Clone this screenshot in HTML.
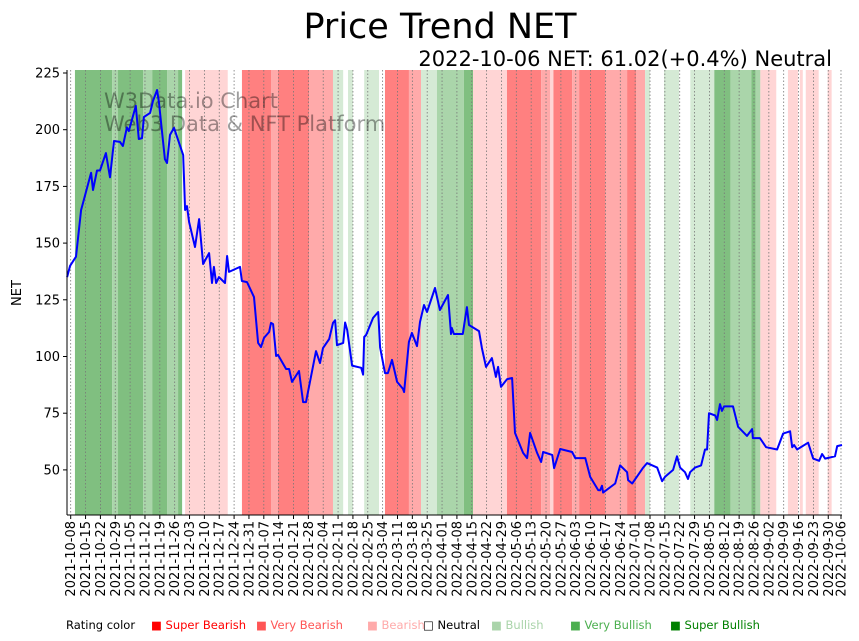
<!DOCTYPE html>
<html><head><meta charset="utf-8"><style>
html,body{margin:0;padding:0;background:#fff;}
svg{display:block;font-family:"Liberation Sans","DejaVu Sans",sans-serif;}
</style></head><body>
<svg id="chart" width="859" height="641" viewBox="0 0 859 641">
<text x="440" y="38" font-size="35" text-anchor="middle" fill="#000" font-family="DejaVu Sans, sans-serif">Price Trend NET</text>
<text x="832" y="66" font-size="21" text-anchor="end" fill="#000" font-family="DejaVu Sans, sans-serif">2022-10-06 NET: 61.02(+0.4%) Neutral</text>
<g id="bands"></g>
<g id="grid"></g>
<text x="104" y="108" font-size="21" fill="#000" fill-opacity="0.38" font-family="DejaVu Sans, sans-serif">W3Data.io Chart</text>
<text x="104" y="131" font-size="21" fill="#000" fill-opacity="0.38" font-family="DejaVu Sans, sans-serif">Web3 Data &amp; NFT Platform</text>
<path id="priceLine" fill="none" stroke="#0000ff" stroke-width="2" stroke-linejoin="round"/>
<line x1="67" y1="70" x2="67" y2="515" stroke="#000" stroke-width="1"/>
<line x1="67" y1="515" x2="842" y2="515" stroke="#000" stroke-width="1"/>
<g id="yticks"></g>
<g id="xticks"></g>
<text transform="translate(21,293) rotate(-90)" font-size="13" text-anchor="middle" font-family="DejaVu Sans, sans-serif">NET</text>
<g font-size="11.5" font-family="DejaVu Sans, sans-serif">
<text x="66" y="629" fill="#000">Rating color</text>
<text x="151" y="629" fill="#ff0000">■ Super Bearish</text>
<text x="256" y="629" fill="#ff5555">■ Very Bearish</text>
<text x="367" y="629" fill="#ffaaaa">■ Bearish</text>
<text x="423" y="629" fill="#000">□ Neutral</text>
<text x="491" y="629" fill="#aad4aa">■ Bullish</text>
<text x="570" y="629" fill="#4caf50">■ Very Bullish</text>
<text x="670" y="629" fill="#008000">■ Super Bullish</text>
</g>
</svg>
<script>
const bandStart=[2,19.5,22.3,34.1,38.4,45.4,50.6,53.9,80.7,94.4,97.7,112.3,123.6,130.7,138.3,148.1,159.4,165.1,172.6,185.3,189.6,205.6,221.7,226,227.5,236.3,239.6,252,262.2,266.4,270.7,279.6,292,303.3,310.9,320.8,322.7,325,338,343.6,346.4,356.7];
const bandEnd=[19.5,22.3,34.1,38.4,45.4,50.6,52.5,74,94.4,97.7,112.3,123.6,128.4,133,145.3,159.4,165.1,172.6,185.3,189.6,205.6,221.7,226,227.5,236.3,239.6,252,262.2,266.4,270.7,273,286.7,303.3,310.9,320.8,322.7,325,332.5,342.7,345,352.5,358.6];
const bandRating=[3,2,3,2,3,2,3,-1,-3,-2,-3,-2,1,1,1,-3,-2,1,2,3,-1,-3,-2,-1,-3,-2,-3,-2,-3,-2,1,1,1,3,2,3,2,-1,-1,-1,-1,-1];
const priceDays=[-1.7,-0.3,2.5,4.9,5.8,9.6,10.5,12.4,13.8,16.6,18.5,20.4,23.2,24.6,26.5,27.4,30.7,32.1,33.6,34.5,37.4,38.8,40.7,41.6,44.4,45.4,46.8,48.7,53,53.9,54.8,55.8,58.6,60.5,62.4,65.2,66.6,67.5,68.5,69.9,72.7,73.7,74.6,79.8,80.7,83.1,86.4,88.3,89.7,91.1,93.5,94.4,95.4,96.8,97.7,101.5,102.9,104.3,107.6,109.5,110.9,115.6,117.5,118.9,121.8,123.6,124.6,125.5,128.4,129.3,130.3,132.6,136.9,137.8,138.3,139.2,142.5,144.9,145.8,148.1,149.5,151.4,153.8,156.6,157.1,159.4,160.8,163.2,164.6,166.5,167.9,171.7,174,177.8,179.2,179.6,180.6,184.8,186.7,187.7,192.4,193.8,195.7,198.5,200.4,201.4,202.8,205.6,208,209.4,213.2,215.1,216.5,219.8,221.7,222.6,226.9,227.8,230.7,236.3,237.8,242.5,244.8,248.6,249.5,250.4,250.9,256.6,258.9,262.2,262.7,264.6,269.8,271.6,276.4,278.7,280.1,283.9,285.7,287.2,289.5,290.9,291.9,294.2,297.1,298.9,299.9,300.8,303.7,304.6,306,306.9,307.9,312.1,314.5,318.7,321.1,321.5,324.8,327.7,332.9,335.7,339,340,340.9,342.3,347.5,349.9,352.7,354.1,355.5,360.2,361.2,363.5];
const priceValues=[135,140,144,164.6,167.7,181,173.4,182,182,189.7,179,195,194.6,192.8,201,199.4,210.5,195.9,196.3,205.6,207.4,212.7,217.5,211.8,187,185.3,197.7,200.8,188.8,164.6,166.3,159.3,148.3,160.6,140.8,145.6,132.4,139.5,132.4,135,132.4,144.3,137.3,139.5,133.3,132.8,126.2,106,104.2,108.2,110.8,114.8,114.3,100.2,100.7,94.5,94.5,88.8,93.6,79.9,79.9,102.4,97.1,103.7,107.7,114.8,116,105,106,115,111.7,96,95,92,108.6,109.5,117,119.6,104,92.7,92.7,98.5,88.8,85.7,84.3,106.4,110.4,104.6,115.2,122.7,119.6,130.2,120.5,127.1,109.9,112.6,109.9,109.9,121.8,113.9,111.2,103.7,95.4,99.3,91,95.4,86.6,90,90.5,66.3,57.5,55.2,66.3,57.5,53.5,57.9,56.6,50.8,59.2,57.9,55.2,55.2,46.9,41.1,41,43,40,44,52,49,45.5,44,51,53,51,45,47,50,56,51,49,46,49,51,52,59,59,75,74,72,79,76,78,78,69,65,68,64,64,60,59,66,67,60,61,59,62,55,54,57,55,56,60.5,61];
const yTickValues=[50,75,100,125,150,175,200,225];
const startDate="2021-10-08";
const endDay=363;

const NS="http://www.w3.org/2000/svg";
const X0=70.7,PXD=2.122,YTOP=73,PXV=2.268;
function xScale(d){return X0+d*PXD;}
function yScale(v){return YTOP+(225-v)*PXV;}
const bandColor={"-3":"#ff8080","-2":"#ffaaaa","-1":"#ffd5d5","1":"#d5ead5","2":"#aad5aa","3":"#80bf80"};
const bandsG=document.getElementById('bands');
for(let i=0;i<bandStart.length;i++){
  const r=document.createElementNS(NS,'rect');
  const x1=xScale(bandStart[i]),x2=xScale(bandEnd[i]);
  r.setAttribute('x',x1);r.setAttribute('y',70);r.setAttribute('width',x2-x1);r.setAttribute('height',445);
  r.setAttribute('fill',bandColor[bandRating[i]]);
  
  
  bandsG.appendChild(r);
}
function fmt(d){const t=new Date(Date.parse(startDate+"T00:00:00Z")+d*86400000);return t.toISOString().slice(0,10);}
const tickDays=[];for(let d=0;d<=endDay;d+=7)tickDays.push(d);if(tickDays[tickDays.length-1]!==endDay)tickDays.push(endDay);
const gridG=document.getElementById('grid'),xtG=document.getElementById('xticks');
tickDays.forEach(d=>{
  const x=xScale(d);
  const l=document.createElementNS(NS,'line');
  l.setAttribute('x1',x);l.setAttribute('x2',x);l.setAttribute('y1',70);l.setAttribute('y2',515);
  l.setAttribute('stroke','#777');l.setAttribute('stroke-width','0.8');l.setAttribute('stroke-dasharray','1.5,2');
  
  
  gridG.appendChild(l);
  const tk=document.createElementNS(NS,'line');
  tk.setAttribute('x1',x);tk.setAttribute('x2',x);tk.setAttribute('y1',515);tk.setAttribute('y2',519);tk.setAttribute('stroke','#000');
  
  
  xtG.appendChild(tk);
  const t=document.createElementNS(NS,'text');
  t.setAttribute('transform','translate('+(x+4.5)+',521) rotate(-90)');
  t.setAttribute('text-anchor','end');t.setAttribute('font-size','13');t.setAttribute('font-family','DejaVu Sans, sans-serif');
  t.textContent=fmt(d);
  
  
  xtG.appendChild(t);
});
const ytG=document.getElementById('yticks');
yTickValues.forEach(v=>{
  const y=yScale(v);
  const tk=document.createElementNS(NS,'line');
  tk.setAttribute('x1',63);tk.setAttribute('x2',67);tk.setAttribute('y1',y);tk.setAttribute('y2',y);tk.setAttribute('stroke','#000');
  
  
  ytG.appendChild(tk);
  const t=document.createElementNS(NS,'text');
  t.setAttribute('x',60);t.setAttribute('y',y+4.5);t.setAttribute('text-anchor','end');t.setAttribute('font-size','13');t.setAttribute('font-family','DejaVu Sans, sans-serif');
  t.textContent=v;
  
  
  ytG.appendChild(t);
});
let dPath='';
priceDays.forEach((d,i)=>{dPath+=(i?'L':'M')+xScale(Math.max(d,-1.7)).toFixed(1)+','+yScale(priceValues[i]).toFixed(1);});
document.getElementById('priceLine').setAttribute('d',dPath);
</script>
</body></html>
